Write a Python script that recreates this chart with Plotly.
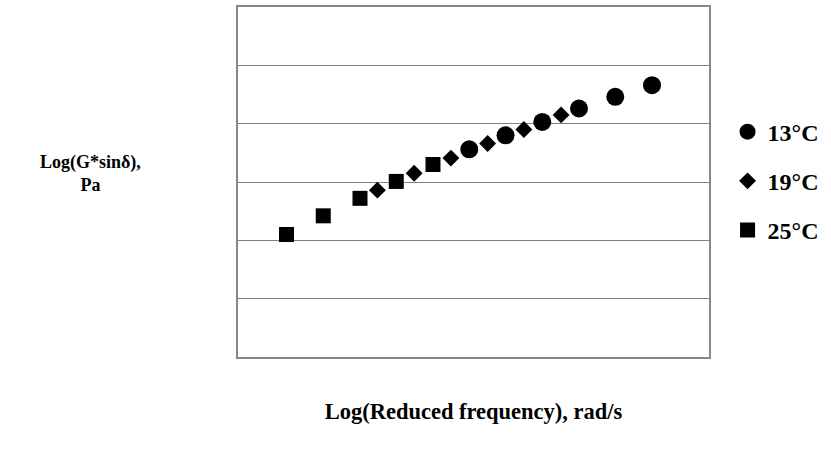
import plotly.graph_objects as go

# Data (arbitrary log units)
x13 = [4.91, 5.68, 6.46, 7.24, 8.01, 8.79]
y13 = [3.56, 3.80, 4.03, 4.26, 4.46, 4.66]
x19 = [2.96, 3.74, 4.52, 5.30, 6.07, 6.86]
y19 = [2.86, 3.15, 3.41, 3.66, 3.90, 4.15]
x25 = [1.03, 1.81, 2.59, 3.36, 4.14]
y25 = [2.10, 2.42, 2.72, 3.01, 3.30]
series_names = ["13°C", "19°C", "25°C"]

FONT = "Liberation Serif, Times New Roman, serif"

fig = go.Figure()
fig.add_trace(go.Scatter(x=x13, y=y13, mode="markers", name="<b>%s</b>" % series_names[0], legendgroup="a",
                         marker=dict(symbol="circle", size=18, color="black")))
fig.add_trace(go.Scatter(x=x19, y=y19, mode="markers", name="<b>%s</b>" % series_names[1], legendgroup="b",
                         marker=dict(symbol="diamond", size=13, color="black")))
fig.add_trace(go.Scatter(x=x25, y=y25, mode="markers", name="<b>%s</b>" % series_names[2], legendgroup="c",
                         marker=dict(symbol="square", size=15, color="black")))

fig.update_layout(
    width=831, height=453,
    margin=dict(l=238, r=111, t=7, b=96),
    paper_bgcolor="white", plot_bgcolor="white",
    font=dict(family=FONT, color="black"),
    showlegend=True,
    legend=dict(x=1.0394, xanchor="left", y=0.707, yanchor="top",
                font=dict(family=FONT, size=24, color="black"),
                traceorder="grouped", tracegroupgap=15,
                itemsizing="trace", bgcolor="rgba(0,0,0,0)"),
    xaxis=dict(range=[0, 10], showgrid=False, zeroline=False, showticklabels=False,
               ticks="", showline=True, mirror=True, linecolor="#888888", linewidth=2,
               title=dict(text="<b>Log(Reduced frequency), rad/s</b>", standoff=45,
                          font=dict(family=FONT, size=22.5, color="black"))),
    yaxis=dict(range=[0, 6], dtick=1, showgrid=True, gridcolor="#808080", gridwidth=1,
               zeroline=False, showticklabels=False, ticks="", showline=True, mirror=True,
               linecolor="#888888", linewidth=2),
    annotations=[dict(text="<b>Log(G*sinδ),<br>Pa</b>", xref="paper", yref="paper",
                      x=(87 - 238) / 482, y=0.5256, xanchor="center", yanchor="middle",
                      showarrow=False, align="center",
                      font=dict(family=FONT, size=18, color="black"))],
)
fig.update_xaxes(automargin=False)
fig.update_yaxes(automargin=False)

fig.write_html("out.html", config={"displayModeBar": False},
               post_script="document.body.style.margin='0px';document.body.style.overflow='hidden';")
